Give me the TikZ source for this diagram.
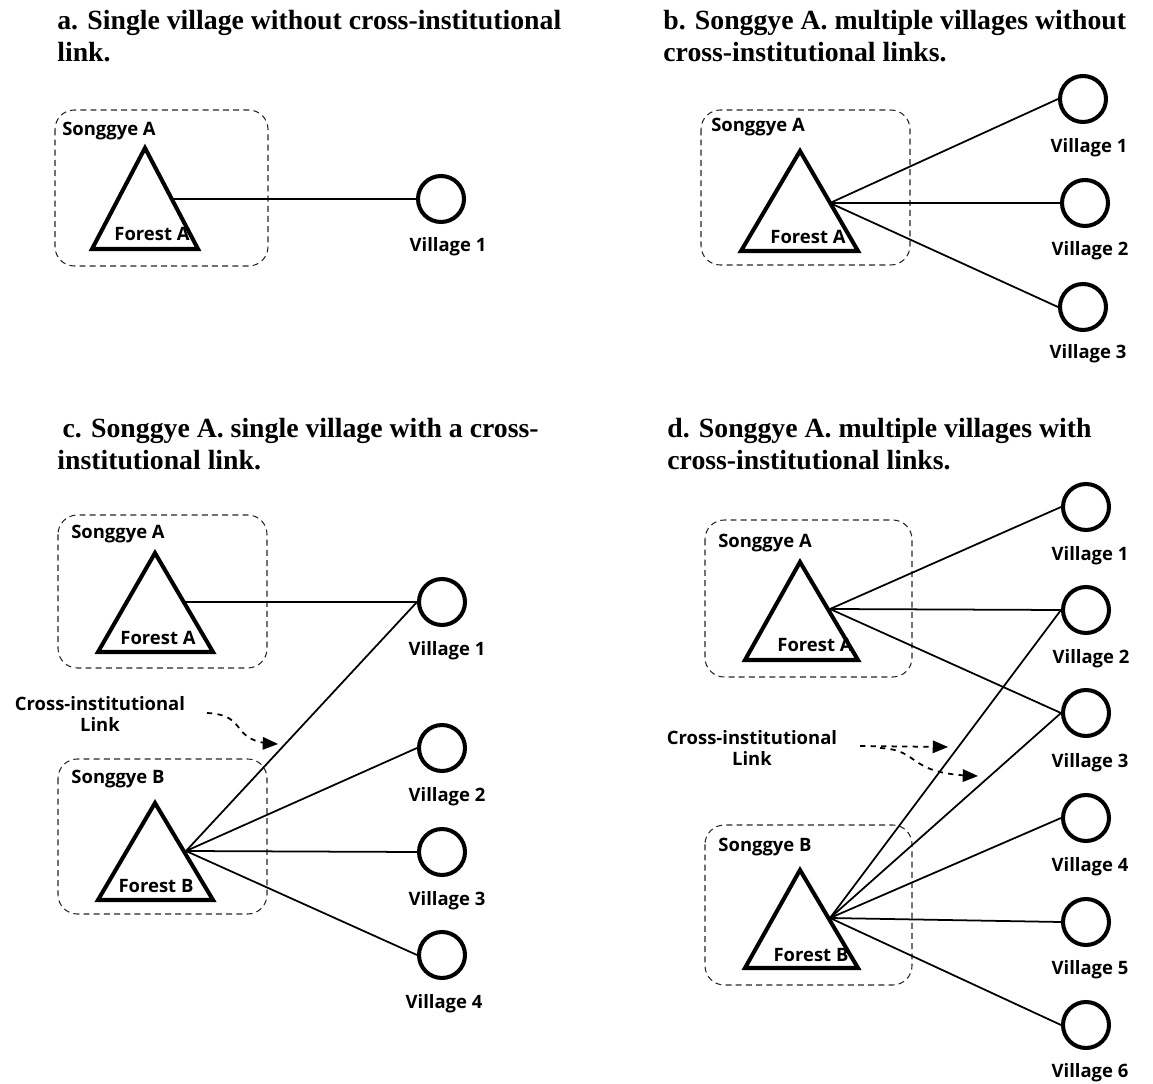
\documentclass[tikz,border=0pt]{standalone}
\usepackage{fontspec}
\setmainfont{Liberation Serif}
\setsansfont{Open Sans}
\usetikzlibrary{arrows,positioning}
\tikzstyle{grp} = [draw=black!85, dash pattern=on 3.4pt off 2.4pt, rounded corners=11pt, line width=0.6pt]
\tikzstyle{frs} = [draw=black, line width=2.3pt]
\tikzstyle{vil} = [circle, draw=black, line width=2.3pt, minimum size=0.92cm, inner sep=0pt]
\tikzstyle{lnk} = [line width=1pt]
\tikzstyle{lbl} = [font=\sffamily\bfseries\fontsize{10.5}{12.5}\selectfont, inner sep=0pt, align=center]
\tikzstyle{ttl} = [font=\rmfamily\bfseries\fontsize{15.8}{18.7}\selectfont, align=left, anchor=west, inner sep=0pt]
\tikzstyle{arr} = [-triangle 45, dashed, line width=1pt]

\begin{document}
\begin{tikzpicture}[x=0.02cm,y=-0.02cm]
\useasboundingbox (0,0) rectangle (1153,1084);

% a. single village
\node[ttl] (ta) at (57,36) {a. Single village without cross-institutional\\link.};
\draw[grp] (55,110) rectangle (268,266);
\node[lbl] (sa) at (109,131) {Songgye A};
\draw[frs] (145,148) -- (198,249) -- (92,249) -- cycle;
\node[lbl] (fa) at (152,234) {Forest A};
\coordinate (ka) at (172,199);
\node[vil] (a1) at (441,199) {};
\node[lbl] (a1t) at (448,247) {Village 1};
\draw[lnk] (ka) -- (a1.west);

% b. multiple villages
\node[ttl] (tb) at (663,36) {b. Songgye A. multiple villages without\\cross-institutional links.};
\draw[grp] (701,110) rectangle (910,265);
\node[lbl] (sb) at (758,127) {Songgye A};
\draw[frs] (800,151) -- (858,251) -- (741,251) -- cycle;
\node[lbl] (fb) at (808,237) {Forest A};
\coordinate (kb) at (830,203);
\node[vil] (b1) at (1083,99) {};
\node[vil] (b2) at (1085,203) {};
\node[vil] (b3) at (1083,307) {};
\node[lbl] (b1t) at (1089,148) {Village 1};
\node[lbl] (b2t) at (1090,251) {Village 2};
\node[lbl] (b3t) at (1088,354) {Village 3};
\draw[lnk] (kb) -- (b1.west);
\draw[lnk] (kb) -- (b2.west);
\draw[lnk] (kb) -- (b3.west);

% c. single village, cross link
\node[ttl] (tc) at (57,444) {\hspace{3pt}c. Songgye A. single village with a cross-\\institutional link.};
\draw[grp] (58,515) rectangle (267,668);
\node[lbl] (sca) at (118,534) {Songgye A};
\draw[frs] (155,553) -- (213,652) -- (98,652) -- cycle;
\node[lbl] (fca) at (158,638) {Forest A};
\coordinate (kca) at (184,602);
\node[vil] (c1) at (442,602) {};
\node[lbl] (c1t) at (447,651) {Village 1};
\draw[lnk] (kca) -- (c1.west);

\node[lbl] (cl) at (100,714) {Cross-institutional\\Link};
\coordinate (cs) at (207,713);
\coordinate (ce) at (278,744);
\draw[arr] (cs) .. controls (250,715) and (228,742) .. (ce);

\draw[grp] (58,759) rectangle (267,914);
\node[lbl] (scb) at (118,779) {Songgye B};
\draw[frs] (155,803) -- (213,900) -- (98,900) -- cycle;
\node[lbl] (fcb) at (156,886) {Forest B};
\coordinate (kcb) at (186,851);
\node[vil] (c2) at (442,748) {};
\node[vil] (c3) at (442,852) {};
\node[vil] (c4) at (442,955) {};
\node[lbl] (c2t) at (447,797) {Village 2};
\node[lbl] (c3t) at (447,901) {Village 3};
\node[lbl] (c4t) at (444,1004) {Village 4};
\draw[lnk] (kcb) -- (c1.west);
\draw[lnk] (kcb) -- (c2.west);
\draw[lnk] (kcb) -- (c3.west);
\draw[lnk] (kcb) -- (c4.west);

% d. multiple villages, cross links
\node[ttl] (td) at (667,444) {d. Songgye A. multiple villages with\\cross-institutional links.};
\draw[grp] (705,520) rectangle (912,677);
\node[lbl] (sda) at (765,543) {Songgye A};
\draw[frs] (800,562) -- (858,660) -- (745,660) -- cycle;
\node[lbl] (fda) at (815,645) {Forest A};
\coordinate (kda) at (830,609);

\node[vil] (d1) at (1086,507) {};
\node[vil] (d2) at (1086,610) {};
\node[vil] (d3) at (1086,713) {};
\node[vil] (d4) at (1086,818) {};
\node[vil] (d5) at (1086,922) {};
\node[vil] (d6) at (1086,1025) {};
\node[lbl] (d1t) at (1090,556) {Village 1};
\node[lbl] (d2t) at (1091,659) {Village 2};
\node[lbl] (d3t) at (1090,763) {Village 3};
\node[lbl] (d4t) at (1090,867) {Village 4};
\node[lbl] (d5t) at (1090,970) {Village 5};
\node[lbl] (d6t) at (1090,1073) {Village 6};
\draw[lnk] (kda) -- (d1.west);
\draw[lnk] (kda) -- (d2.west);
\draw[lnk] (kda) -- (d3.west);

\node[lbl] (dl) at (752,748) {Cross-institutional\\Link};
\coordinate (ds) at (860,746);
\coordinate (de) at (948,747);
\coordinate (dt) at (978,776);
\draw[arr] (ds) -- (de);
\draw[arr] (880,748) .. controls (922,750) and (905,774) .. (dt);

\draw[grp] (705,825) rectangle (912,985);
\node[lbl] (sdb) at (765,847) {Songgye B};
\draw[frs] (800,870) -- (858,968) -- (745,968) -- cycle;
\node[lbl] (fdb) at (811,955) {Forest B};
\coordinate (kdb) at (830,918);
\draw[lnk] (kdb) -- (d2.west);
\draw[lnk] (kdb) -- (d3.west);
\draw[lnk] (kdb) -- (d4.west);
\draw[lnk] (kdb) -- (d5.west);
\draw[lnk] (kdb) -- (d6.west);
\end{tikzpicture}
\end{document}
